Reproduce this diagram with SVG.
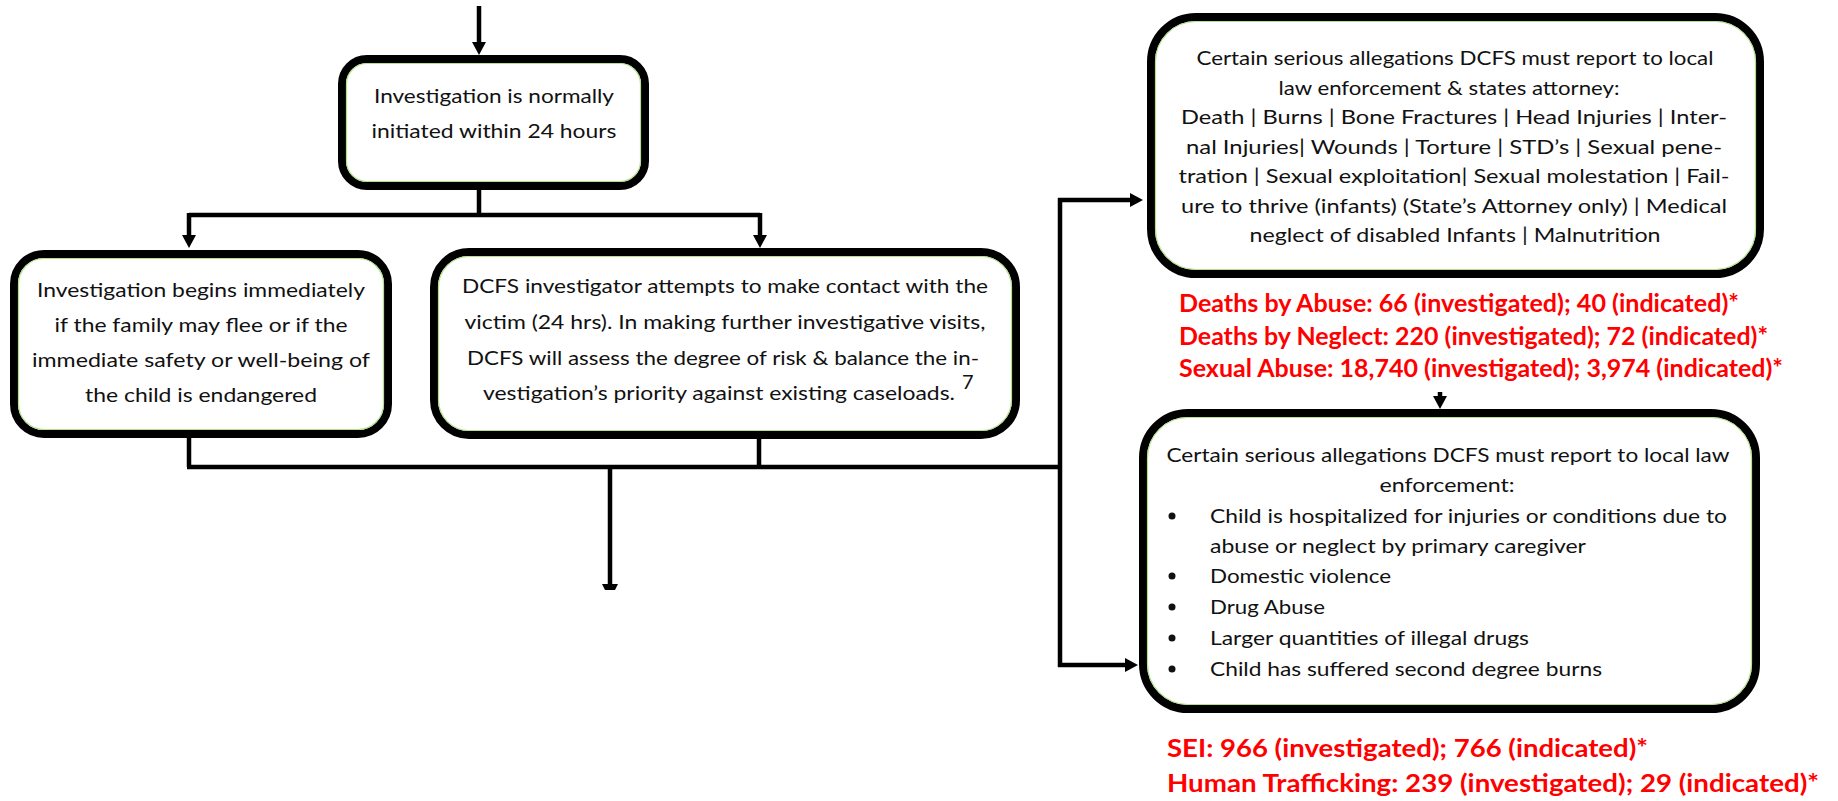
<svg xmlns="http://www.w3.org/2000/svg" width="1838" height="801" viewBox="0 0 1838 801">
<style>
.box{fill:#fff;stroke:#000;stroke-width:8}
.halo{fill:none;stroke:#b4e08c;stroke-width:1.2}
.t{font-family:Lato,"Liberation Sans",sans-serif;font-size:20px;fill:#111}
.c{text-anchor:middle}
.r{font-family:Lato,"Liberation Sans",sans-serif;font-size:25px;font-weight:bold;fill:#ff0000}
.ln{fill:none;stroke:#000;stroke-width:4.5}
.ar{marker-end:url(#ah)}
</style>
<defs>
<marker id="ah" markerUnits="userSpaceOnUse" markerWidth="14" markerHeight="14" refX="3" refY="7" orient="auto">
<path d="M0,0 L13,7 L0,14 Z" fill="#000"/>
</marker>
</defs>
<rect width="1838" height="801" fill="#fff"/>
<g id="connectors">
<path class="ln ar" d="M479,6 V45"/>
<path class="ln" d="M479,186 V215 M189,215 H760"/>
<path class="ln ar" d="M189,213 V238"/>
<path class="ln ar" d="M760,213 V238"/>
<path class="ln" d="M189,434 V467 M759,435 V467 M187,467 H1060 M610,467 V586"/>
<polygon points="602,584 618,584 615,590 605,590" fill="#000"/>
<path class="ln" d="M1060,198 V667"/>
<path class="ln ar" d="M1058,200 H1133"/>
<path class="ln ar" d="M1058,665 H1128"/>
<path class="ln ar" d="M1440,392 V399"/>
</g>
<g id="node-initiated">
<rect class="box" x="342" y="59" width="303" height="127" rx="25"/>
<rect class="halo" x="346.5" y="63.5" width="294" height="118" rx="20.5"/>
<text class="t c" x="494" y="103" font-size="21" textLength="240" lengthAdjust="spacingAndGlyphs">Investigation is normally</text>
<text class="t c" x="494" y="138" font-size="21" textLength="245" lengthAdjust="spacingAndGlyphs">initiated within 24 hours</text>
</g>
<g id="node-immediate">
<rect class="box" x="14" y="254" width="374" height="180" rx="30"/>
<rect class="halo" x="18.5" y="258.5" width="365" height="171" rx="25.5"/>
<text class="t c" x="201" y="297" font-size="21" textLength="328" lengthAdjust="spacingAndGlyphs">Investigation begins immediately</text>
<text class="t c" x="201" y="332" font-size="21" textLength="293" lengthAdjust="spacingAndGlyphs">if the family may flee or if the</text>
<text class="t c" x="201" y="367" font-size="21" textLength="338" lengthAdjust="spacingAndGlyphs">immediate safety or well-being of</text>
<text class="t c" x="201" y="402" font-size="21" textLength="232" lengthAdjust="spacingAndGlyphs">the child is endangered</text>
</g>
<g id="node-contact">
<rect class="box" x="434" y="252" width="582" height="183" rx="35"/>
<rect class="halo" x="438.5" y="256.5" width="573" height="174" rx="30.5"/>
<text class="t c" x="725" y="293" font-size="21" textLength="526" lengthAdjust="spacingAndGlyphs">DCFS investigator attempts to make contact with the</text>
<text class="t c" x="725" y="329" font-size="21" textLength="521" lengthAdjust="spacingAndGlyphs">victim (24 hrs). In making further investigative visits,</text>
<text class="t c" x="723" y="365" font-size="21" textLength="512" lengthAdjust="spacingAndGlyphs">DCFS will assess the degree of risk &amp; balance the in-</text>
<text class="t" x="483" y="400" font-size="21" textLength="472" lengthAdjust="spacingAndGlyphs">vestigation’s priority against existing caseloads.</text>
<text class="t" x="962" y="389" font-size="10">7</text>
</g>
<g id="node-states-attorney">
<rect class="box" x="1151" y="17" width="609" height="257" rx="45"/>
<rect class="halo" x="1155.5" y="21.5" width="600" height="248" rx="40.5"/>
<text class="t c" x="1455" y="65" font-size="21" textLength="517" lengthAdjust="spacingAndGlyphs">Certain serious allegations DCFS must report to local</text>
<text class="t c" x="1449" y="94.5" font-size="21" textLength="341" lengthAdjust="spacingAndGlyphs">law enforcement &amp; states attorney:</text>
<text class="t c" x="1454" y="124" font-size="21" textLength="546" lengthAdjust="spacingAndGlyphs">Death | Burns | Bone Fractures | Head Injuries | Inter-</text>
<text class="t c" x="1454" y="153.5" font-size="21" textLength="536" lengthAdjust="spacingAndGlyphs">nal Injuries| Wounds | Torture | STD’s | Sexual pene-</text>
<text class="t c" x="1454" y="183" font-size="21" textLength="551" lengthAdjust="spacingAndGlyphs">tration | Sexual exploitation| Sexual molestation | Fail-</text>
<text class="t c" x="1454" y="212.5" font-size="21" textLength="546" lengthAdjust="spacingAndGlyphs">ure to thrive (infants) (State’s Attorney only) | Medical</text>
<text class="t c" x="1455" y="242" font-size="21" textLength="411" lengthAdjust="spacingAndGlyphs">neglect of disabled Infants | Malnutrition</text>
</g>
<g id="stats-1">
<text class="r" x="1179" y="312" textLength="560" lengthAdjust="spacingAndGlyphs">Deaths by Abuse: 66 (investigated); 40 (indicated)*</text>
<text class="r" x="1179" y="345" textLength="589" lengthAdjust="spacingAndGlyphs">Deaths by Neglect: 220 (investigated); 72 (indicated)*</text>
<text class="r" x="1179" y="377" textLength="604" lengthAdjust="spacingAndGlyphs">Sexual Abuse: 18,740 (investigated); 3,974 (indicated)*</text>
</g>
<g id="node-law-enforcement">
<rect class="box" x="1143" y="413" width="613" height="296" rx="45"/>
<rect class="halo" x="1147.5" y="417.5" width="604" height="287" rx="40.5"/>
<text class="t c" x="1448" y="462" font-size="21" textLength="563" lengthAdjust="spacingAndGlyphs">Certain serious allegations DCFS must report to local law</text>
<text class="t c" x="1447" y="492" font-size="21" textLength="135" lengthAdjust="spacingAndGlyphs">enforcement:</text>
<g fill="#111">
<circle cx="1172" cy="516" r="3.5"/>
<circle cx="1172" cy="576" r="3.5"/>
<circle cx="1172" cy="607" r="3.5"/>
<circle cx="1172" cy="638" r="3.5"/>
<circle cx="1172" cy="669" r="3.5"/>
</g>
<text class="t" x="1210" y="523" font-size="21" textLength="517" lengthAdjust="spacingAndGlyphs">Child is hospitalized for injuries or conditions due to</text>
<text class="t" x="1210" y="553" font-size="21" textLength="376" lengthAdjust="spacingAndGlyphs">abuse or neglect by primary caregiver</text>
<text class="t" x="1210" y="583" font-size="21" textLength="181" lengthAdjust="spacingAndGlyphs">Domestic violence</text>
<text class="t" x="1210" y="614" font-size="21" textLength="115" lengthAdjust="spacingAndGlyphs">Drug Abuse</text>
<text class="t" x="1210" y="645" font-size="21" textLength="319" lengthAdjust="spacingAndGlyphs">Larger quantities of illegal drugs</text>
<text class="t" x="1210" y="676" font-size="21" textLength="392" lengthAdjust="spacingAndGlyphs">Child has suffered second degree burns</text>
</g>
<g id="stats-2">
<text class="r" x="1167" y="757" textLength="481" lengthAdjust="spacingAndGlyphs">SEI: 966 (investigated); 766 (indicated)*</text>
<text class="r" x="1167" y="792" textLength="652" lengthAdjust="spacingAndGlyphs">Human Trafficking: 239 (investigated); 29 (indicated)*</text>
</g>
</svg>
